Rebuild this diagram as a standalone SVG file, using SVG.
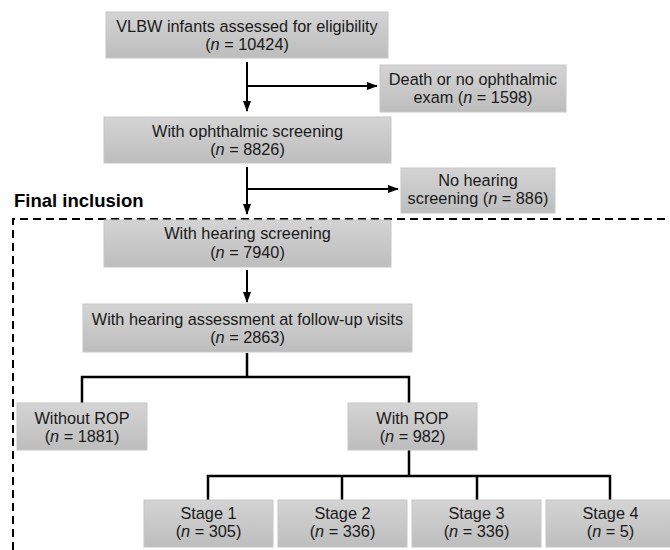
<svg xmlns="http://www.w3.org/2000/svg" width="670" height="550" viewBox="0 0 670 550">
  <defs>
    <linearGradient id="boxfill" x1="0" y1="0" x2="0" y2="1">
      <stop offset="0" stop-color="#d4d4d4"/>
      <stop offset="1" stop-color="#bdbdbd"/>
    </linearGradient>
    <marker id="arrow" markerUnits="userSpaceOnUse" markerWidth="11" markerHeight="10" viewBox="0 0 11 10" refX="10" refY="5" orient="auto">
      <path d="M0,1 L11,5 L0,9 Z" fill="#000"/>
    </marker>
  </defs>
  <style>
    .box { fill: url(#boxfill); stroke: #c6c6c6; stroke-width: 1; }
    .t { font-family: "Liberation Sans", Arial, sans-serif; font-size: 16.3px; fill: #1a1a1a; text-anchor: middle; }
    .arr { stroke: #000; stroke-width: 2; fill: none; marker-end: url(#arrow); }
    .tree { stroke: #000; stroke-width: 2.5; fill: none; }
    .dash { stroke: #000; stroke-width: 2; fill: none; stroke-dasharray: 8 5; }
    .title { font-family: "Liberation Sans", Arial, sans-serif; font-size: 18.5px; font-weight: bold; fill: #000; }
  </style>
  <rect width="670" height="550" fill="#fff"/>

  <g id="final-inclusion">
    <path class="dash" d="M13,550 L13,219 L670,219"/>
    <text class="title" x="14" y="207">Final inclusion</text>
  </g>

  <g id="connectors">
    <line class="arr" x1="247" y1="62" x2="247" y2="111"/>
    <line class="arr" x1="246" y1="86" x2="377" y2="86"/>
    <line class="arr" x1="247" y1="167" x2="247" y2="214"/>
    <line class="arr" x1="246" y1="189" x2="398" y2="189"/>
    <line class="arr" x1="247" y1="270" x2="247" y2="302"/>
    <path class="tree" d="M247,353 L247,377 M82,403 L82,377 L409,377 L409,403"/>
    <path class="tree" d="M409,450 L409,476 M208,500 L208,476 L610,476 L610,500 M342,476 L342,500 M477,476 L477,500"/>
  </g>

  <g id="n1">
    <rect class="box" x="106" y="12" width="282" height="46"/>
    <text class="t" x="247" y="32">VLBW infants assessed for eligibility</text>
    <text class="t" x="247" y="50">(<tspan font-style="italic">n</tspan> = 10424)</text>
  </g>
  <g id="n-excl1">
    <rect class="box" x="380" y="65" width="186" height="47"/>
    <text class="t" x="473" y="85">Death or no ophthalmic</text>
    <text class="t" x="473" y="103">exam (<tspan font-style="italic">n</tspan> = 1598)</text>
  </g>
  <g id="n2">
    <rect class="box" x="104" y="117" width="287" height="46"/>
    <text class="t" x="247.5" y="137">With ophthalmic screening</text>
    <text class="t" x="247.5" y="155">(<tspan font-style="italic">n</tspan> = 8826)</text>
  </g>
  <g id="n-excl2">
    <rect class="box" x="401" y="168" width="154" height="45"/>
    <text class="t" x="478" y="186">No hearing</text>
    <text class="t" x="478" y="204">screening (<tspan font-style="italic">n</tspan> = 886)</text>
  </g>
  <g id="n3">
    <rect class="box" x="104" y="220" width="287" height="47"/>
    <text class="t" x="247.5" y="239">With hearing screening</text>
    <text class="t" x="247.5" y="258">(<tspan font-style="italic">n</tspan> = 7940)</text>
  </g>
  <g id="n4">
    <rect class="box" x="83" y="304" width="329" height="48"/>
    <text class="t" x="247.5" y="325">With hearing assessment at follow-up visits</text>
    <text class="t" x="247.5" y="343">(<tspan font-style="italic">n</tspan> = 2863)</text>
  </g>
  <g id="n-norop">
    <rect class="box" x="17" y="403" width="130" height="47"/>
    <text class="t" x="82" y="424">Without ROP</text>
    <text class="t" x="82" y="442">(<tspan font-style="italic">n</tspan> = 1881)</text>
  </g>
  <g id="n-rop">
    <rect class="box" x="348" y="403" width="129" height="47"/>
    <text class="t" x="412.5" y="424">With ROP</text>
    <text class="t" x="412.5" y="442">(<tspan font-style="italic">n</tspan> = 982)</text>
  </g>
  <g id="n-stage1">
    <rect class="box" x="144" y="500" width="129" height="47"/>
    <text class="t" x="208.5" y="519">Stage 1</text>
    <text class="t" x="208.5" y="537">(<tspan font-style="italic">n</tspan> = 305)</text>
  </g>
  <g id="n-stage2">
    <rect class="box" x="278" y="500" width="129" height="47"/>
    <text class="t" x="342.5" y="519">Stage 2</text>
    <text class="t" x="342.5" y="537">(<tspan font-style="italic">n</tspan> = 336)</text>
  </g>
  <g id="n-stage3">
    <rect class="box" x="412" y="500" width="129" height="47"/>
    <text class="t" x="476.5" y="519">Stage 3</text>
    <text class="t" x="476.5" y="537">(<tspan font-style="italic">n</tspan> = 336)</text>
  </g>
  <g id="n-stage4">
    <rect class="box" x="546" y="500" width="129" height="47"/>
    <text class="t" x="610.5" y="519">Stage 4</text>
    <text class="t" x="610.5" y="537">(<tspan font-style="italic">n</tspan> = 5)</text>
  </g>
</svg>
